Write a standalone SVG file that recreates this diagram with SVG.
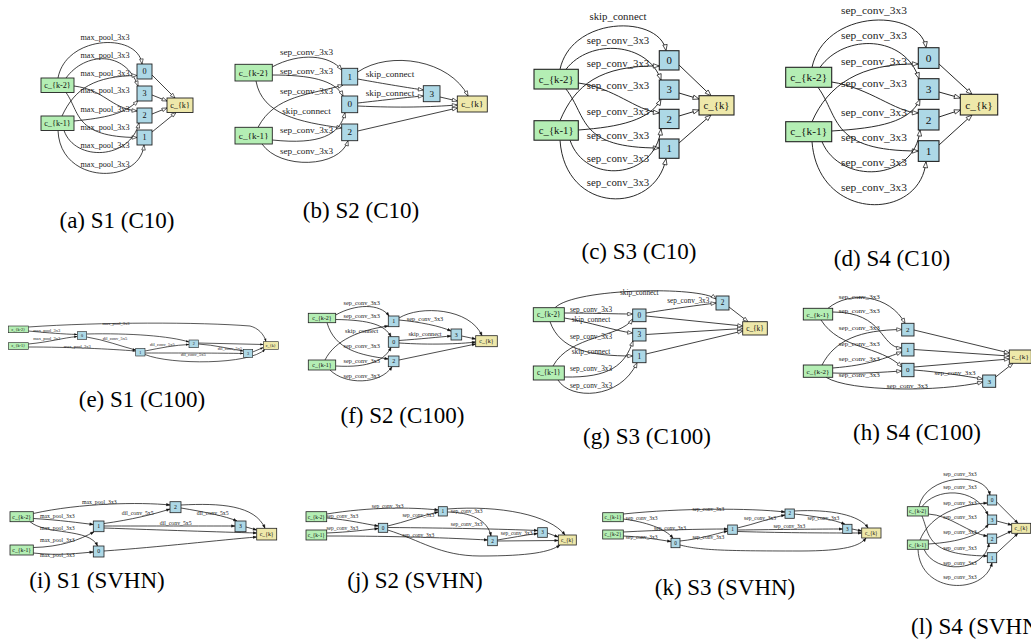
<svg xmlns="http://www.w3.org/2000/svg" width="1031" height="643" viewBox="0 0 1031 643">
<defs>
<style>
.g{fill:#b4eeb4;stroke:#222}
.b{fill:#add8e6;stroke:#222}
.y{fill:#eee8aa;stroke:#222}
.e path{fill:none;stroke:#111}
.e text{fill:#222;stroke:none}
text{font-family:"Liberation Serif","Times New Roman",serif;text-anchor:middle;fill:#111}
.cap{font-size:23px;fill:#000}
.capl{font-size:23px;fill:#000;text-anchor:start}
</style>
<marker id="mL" markerUnits="userSpaceOnUse" markerWidth="8" markerHeight="6" viewBox="-1 -3 8 6" refX="6" refY="0" orient="auto"><path d="M0,-2.2 L6,0 L0,2.2 Z" fill="#fff" stroke="#111" stroke-width="0.7"/></marker>
<marker id="mM" markerUnits="userSpaceOnUse" markerWidth="7" markerHeight="5" viewBox="-1 -2.5 7 5" refX="5" refY="0" orient="auto"><path d="M0,-1.8 L5,0 L0,1.8 Z" fill="#fff" stroke="#111" stroke-width="0.6"/></marker>
<marker id="mS" markerUnits="userSpaceOnUse" markerWidth="5" markerHeight="4" viewBox="-0.5 -2 5 4" refX="3.6" refY="0" orient="auto"><path d="M0,-1.3 L3.6,0 L0,1.3 Z" fill="#111" stroke="#111" stroke-width="0.3"/></marker>
<marker id="mXS" markerUnits="userSpaceOnUse" markerWidth="4" markerHeight="3" viewBox="-0.5 -1.5 4 3" refX="3" refY="0" orient="auto"><path d="M0,-1.1 L3,0 L0,1.1 Z" fill="#111"/></marker>
</defs>
<rect width="1031" height="643" fill="#fff"/>

<!-- (a) -->
<g id="panel-a" font-size="8.2" stroke-width="0.9">
<g id="a-edges" class="e" stroke-width="0.8" marker-end="url(#mM)">
<path d="M58 78 C66 35,138 32,142 64"/>
<path d="M66 78 C85 52,125 50,138 86"/>
<path d="M62 116 C75 88,95 76,137 75.5"/>
<path d="M74 86 C105 90,110 108,137 111"/>
<path d="M74 121 C105 118,125 114,138 100.5"/>
<path d="M66 92.5 C80 112,74 137,137 137.5"/>
<path d="M64 130.5 C75 162,130 160,139 123"/>
<path d="M58 130.5 C60 185,140 185,144 145"/>
<path d="M152 75 L175 98"/>
<path d="M152 95 L167 101"/>
<path d="M152 114 L167 108"/>
<path d="M152 132 L176 112.5"/>
<text x="105" y="40">max_pool_3x3</text>
<text x="105" y="57.7">max_pool_3x3</text>
<text x="105" y="76">max_pool_3x3</text>
<text x="105" y="92.7">max_pool_3x3</text>
<text x="105" y="112">max_pool_3x3</text>
<text x="105" y="130.4">max_pool_3x3</text>
<text x="105" y="148.4">max_pool_3x3</text>
<text x="105" y="166.7">max_pool_3x3</text>
</g>
<g id="a-ck2"><rect class="g" x="41" y="78" width="33" height="14.5"/><text x="57.5" y="88">c_{k-2}</text></g>
<g id="a-ck1"><rect class="g" x="41" y="116" width="33" height="14.5"/><text x="57.5" y="126">c_{k-1}</text></g>
<g id="a-n0"><rect class="b" x="137" y="64" width="15" height="15"/><text x="144.5" y="74.3">0</text></g>
<g id="a-n3"><rect class="b" x="137" y="86" width="15" height="15"/><text x="144.5" y="96.3">3</text></g>
<g id="a-n2"><rect class="b" x="137" y="108" width="15" height="15"/><text x="144.5" y="118.3">2</text></g>
<g id="a-n1"><rect class="b" x="137" y="130" width="15" height="15"/><text x="144.5" y="140.3">1</text></g>
<g id="a-ck"><rect class="y" x="167" y="98" width="26" height="14.5"/><text x="180" y="108">c_{k}</text></g>
<text class="cap" x="117" y="228">(a) S1 (C10)</text>
</g>

<!-- (b) -->
<g id="panel-b" font-size="9.2" stroke-width="0.9">
<g id="b-edges" class="e" stroke-width="0.8" marker-end="url(#mM)">
<path d="M272 67 C300 52,330 55,341.7 70"/>
<path d="M272 75 C310 75,335 80,343 96"/>
<path d="M258 127.3 C275 95,310 95,343 85"/>
<path d="M256 81 C262 115,300 122,341.7 128"/>
<path d="M272.3 140 C320 145,340 135,345 112.7"/>
<path d="M262 144 C280 170,340 168,348 140.7"/>
<path d="M357.7 79 C385 84,410 88,423.3 90"/>
<path d="M357.7 103 C385 100,410 97,423.3 96"/>
<path d="M357.7 72 C390 50,450 60,468 96"/>
<path d="M357.7 106 C400 108,430 107,457.3 105"/>
<path d="M440 97 L457.3 101"/>
<path d="M357.7 131 L457.3 108"/>
<text x="306.5" y="55.3">sep_conv_3x3</text>
<text x="306.5" y="73.7">sep_conv_3x3</text>
<text x="306.5" y="93.7">sep_conv_3x3</text>
<text x="306.5" y="113.7">skip_connect</text>
<text x="306.5" y="133">sep_conv_3x3</text>
<text x="306.5" y="154">sep_conv_3x3</text>
<text x="390" y="77.3">skip_connect</text>
<text x="390" y="96.3">skip_connect</text>
</g>
<g id="b-ck2"><rect class="g" x="235" y="64.3" width="37.3" height="16.7"/><text x="253.7" y="75.7">c_{k-2}</text></g>
<g id="b-ck1"><rect class="g" x="235" y="127.3" width="37.3" height="16.7"/><text x="253.7" y="138.7">c_{k-1}</text></g>
<g id="b-n1"><rect class="b" x="341.7" y="68.3" width="16" height="16.7"/><text x="349.7" y="79.7">1</text></g>
<g id="b-n0"><rect class="b" x="341.7" y="96" width="16" height="16.7"/><text x="349.7" y="107.3">0</text></g>
<g id="b-n2"><rect class="b" x="341.7" y="124" width="16" height="16.7"/><text x="349.7" y="135.3">2</text></g>
<g id="b-n3"><rect class="b" x="423.3" y="85.7" width="16.7" height="16"/><text x="431.7" y="96.7">3</text></g>
<g id="b-ck"><rect class="y" x="457.3" y="96" width="30" height="16"/><text x="472.3" y="107">c_{k}</text></g>
<text class="cap" x="361" y="218">(b) S2 (C10)</text>
</g>

<!-- (c) -->
<g id="panel-c" font-size="10.8" stroke-width="1.1">
<g id="c-edges" class="e" stroke-width="0.9" marker-end="url(#mL)">
<path d="M560 69.3 C572 15,660 15,666 50.7"/>
<path d="M566 69.3 C590 38,648 42,661 80"/>
<path d="M560 120.7 C575 85,600 65,659.3 66"/>
<path d="M578.3 83 C615 88,635 110,659.3 113"/>
<path d="M578.3 130 C620 127,650 120,661 99.3"/>
<path d="M566 89 C588 118,578 148,659.3 148"/>
<path d="M570 140.2 C585 185,655 180,661 129"/>
<path d="M560 140.2 C565 215,655 215,666 158.7"/>
<path d="M679 65 L711 95.7"/>
<path d="M679 93 L699 99"/>
<path d="M679 116 L699 110"/>
<path d="M679 143 L711 115"/>
<text x="618" y="20.3">skip_connect</text>
<text x="618" y="43.6">sep_conv_3x3</text>
<text x="618" y="66.9">sep_conv_3x3</text>
<text x="618" y="88.6">sep_conv_3x3</text>
<text x="618" y="115.3">sep_conv_3x3</text>
<text x="618" y="138.6">sep_conv_3x3</text>
<text x="618" y="162.3">sep_conv_3x3</text>
<text x="618" y="186.3">sep_conv_3x3</text>
</g>
<g id="c-ck2"><rect class="g" x="534" y="69.3" width="44.3" height="19.7"/><text x="556.2" y="82.8">c_{k-2}</text></g>
<g id="c-ck1"><rect class="g" x="534" y="120.7" width="44.3" height="19.5"/><text x="556.2" y="134">c_{k-1}</text></g>
<g id="c-n0"><rect class="b" x="659.3" y="50.7" width="19.7" height="19.3"/><text x="669.2" y="63.9">0</text></g>
<g id="c-n3"><rect class="b" x="659.3" y="80" width="19.7" height="19.3"/><text x="669.2" y="93.3">3</text></g>
<g id="c-n2"><rect class="b" x="659.3" y="109.3" width="19.7" height="19.3"/><text x="669.2" y="122.6">2</text></g>
<g id="c-n1"><rect class="b" x="659.3" y="139" width="19.7" height="19.3"/><text x="669.2" y="152.3">1</text></g>
<g id="c-ck"><rect class="y" x="699" y="95.7" width="35" height="19.3"/><text x="716.5" y="108.9">c_{k}</text></g>
<text class="cap" x="639" y="259">(c) S3 (C10)</text>
</g>

<!-- (d) -->
<g id="panel-d" font-size="11.4" stroke-width="1.1">
<g id="d-edges" class="e" stroke-width="0.9" marker-end="url(#mL)">
<path d="M812 67.3 C825 8,920 8,926 47.7"/>
<path d="M820 67.3 C845 33,905 35,919 78.7"/>
<path d="M812 121.7 C828 85,860 63,918.3 64"/>
<path d="M831.7 82 C870 88,895 112,918.3 113"/>
<path d="M831.7 131 C880 128,910 122,920 99.3"/>
<path d="M818 87.3 C840 118,830 151,918.3 151"/>
<path d="M822 141.7 C840 185,915 182,920 130"/>
<path d="M812 141.7 C818 222,920 222,926 161.7"/>
<path d="M939 64 L972 94.3"/>
<path d="M939 92 L960.3 98"/>
<path d="M939 117 L960.3 110"/>
<path d="M939 145 L972 115"/>
<text x="874" y="13.8">sep_conv_3x3</text>
<text x="874" y="38.8">sep_conv_3x3</text>
<text x="874" y="64.8">sep_conv_3x3</text>
<text x="874" y="87.1">sep_conv_3x3</text>
<text x="874" y="115.5">sep_conv_3x3</text>
<text x="874" y="140.5">sep_conv_3x3</text>
<text x="874" y="166.1">sep_conv_3x3</text>
<text x="874" y="191.1">sep_conv_3x3</text>
</g>
<g id="d-ck2"><rect class="g" x="785.7" y="67.3" width="46" height="20"/><text x="808.7" y="81">c_{k-2}</text></g>
<g id="d-ck1"><rect class="g" x="785.7" y="121.7" width="46" height="20"/><text x="808.7" y="135.4">c_{k-1}</text></g>
<g id="d-n0"><rect class="b" x="918.3" y="47.7" width="20.7" height="20.7"/><text x="928.7" y="61.8">0</text></g>
<g id="d-n3"><rect class="b" x="918.3" y="78.7" width="20.7" height="20.7"/><text x="928.7" y="92.8">3</text></g>
<g id="d-n2"><rect class="b" x="918.3" y="109.3" width="20.7" height="20.7"/><text x="928.7" y="123.5">2</text></g>
<g id="d-n1"><rect class="b" x="918.3" y="140.7" width="20.7" height="20.7"/><text x="928.7" y="154.8">1</text></g>
<g id="d-ck"><rect class="y" x="960.3" y="94.3" width="37.4" height="20.7"/><text x="979" y="108.5">c_{k}</text></g>
<text class="cap" x="892" y="266">(d) S4 (C10)</text>
</g>

<!-- (e) -->
<g id="panel-e" font-size="4.2" stroke-width="0.6">
<g id="e-edges" class="e" stroke-width="0.7" marker-end="url(#mXS)">
<path d="M28.3 327 C100 322,200 322,250 326 C258 328,264 334,266 341.7"/>
<path d="M28.3 331 C50 333,62 334,77.3 334.5"/>
<path d="M28.3 344 C50 342,62 338,77.3 336.5"/>
<path d="M28.3 347 C70 347,110 349,135.7 351"/>
<path d="M86.7 334 C130 333,170 336,189 342"/>
<path d="M86.7 337 C105 340,120 346,135.7 350"/>
<path d="M145 351 C160 348,175 345,189 344.5"/>
<path d="M145 353 C180 353,220 353,243.3 353.5"/>
<path d="M198.3 344 C215 345,230 349,243.3 351"/>
<path d="M198.3 343 L263.3 344.5"/>
<path d="M252.7 352 L263.3 347.5"/>
<path d="M145 354.5 C170 365,250 365,265 349.3"/>
<g font-size="4.5">
<text x="116" y="324.8">max_pool_3x3</text>
<text x="46.7" y="331.5">max_pool_3x3</text>
<text x="46.7" y="339.8">max_pool_3x3</text>
<text x="77.3" y="347.5">max_pool_3x3</text>
<text x="115" y="339.8">dil_conv_5x5</text>
<text x="162.3" y="345.5">dil_conv_5x5</text>
<text x="230" y="349.8">dil_conv_5x5</text>
<text x="193.3" y="355.5">dil_conv_5x5</text>
</g>
</g>
<g id="e-ck2"><rect class="g" x="8.3" y="326" width="20" height="6.7"/><text x="18.3" y="330.7">c_{k-2}</text></g>
<g id="e-ck1"><rect class="g" x="8.3" y="342.7" width="20" height="6.7"/><text x="18.3" y="347.4">c_{k-1}</text></g>
<g id="e-n0"><rect class="b" x="77.3" y="331.7" width="9.4" height="7.6"/><text x="82" y="337">0</text></g>
<g id="e-n1"><rect class="b" x="135.7" y="348.3" width="9.3" height="7.7"/><text x="140.3" y="353.6">1</text></g>
<g id="e-n2"><rect class="b" x="189" y="340" width="9.3" height="7.7"/><text x="193.7" y="345.3">2</text></g>
<g id="e-n3"><rect class="b" x="243.3" y="349.3" width="9.4" height="8"/><text x="248" y="354.8">3</text></g>
<g id="e-ck"><rect class="y" x="263.3" y="341.7" width="15" height="7.6"/><text x="270.8" y="347">c_{k}</text></g>
<text class="cap" x="142" y="407">(e) S1 (C100)</text>
</g>

<!-- (f) -->
<g id="panel-f" font-size="6" stroke-width="0.8">
<g id="f-edges" class="e" stroke-width="0.75" marker-end="url(#mS)">
<path d="M335.7 315 C355 304,380 303,389 316"/>
<path d="M335.7 319.5 C370 320,385 325,391 336.7"/>
<path d="M325 360 C335 340,360 330,388.3 326"/>
<path d="M327 322.7 C335 350,360 355,388.3 359"/>
<path d="M335.7 366 C370 368,385 360,391 347.3"/>
<path d="M330 370 C345 385,380 385,392 366.7"/>
<path d="M399 320 C420 322,440 326,451 331"/>
<path d="M399 340.5 C420 339,440 337,451 336"/>
<path d="M399 318 C420 305,470 308,482 335.7"/>
<path d="M399 343 C430 345,460 344,475.7 342"/>
<path d="M461.7 336 L475.7 339"/>
<path d="M399 360 L475.7 344"/>
<g font-size="6.3">
<text x="361.7" y="305.4">sep_conv_3x3</text>
<text x="361.7" y="318.1">sep_conv_3x3</text>
<text x="361.7" y="333.1">skip_connect</text>
<text x="361.7" y="348.1">sep_conv_3x3</text>
<text x="361.7" y="363.1">sep_conv_3x3</text>
<text x="361.7" y="378.1">sep_conv_3x3</text>
<text x="425" y="321.4">sep_conv_3x3</text>
<text x="425" y="336.4">skip_connect</text>
</g>
</g>
<g id="f-ck2"><rect class="g" x="308.3" y="313.3" width="27.4" height="9.4"/><text x="322" y="320">c_{k-2}</text></g>
<g id="f-ck1"><rect class="g" x="308.3" y="360" width="27.4" height="10"/><text x="322" y="367">c_{k-1}</text></g>
<g id="f-n1"><rect class="b" x="388.3" y="316" width="10.7" height="10.7"/><text x="393.7" y="323.3">1</text></g>
<g id="f-n0"><rect class="b" x="388.3" y="336.7" width="10.7" height="10.6"/><text x="393.7" y="344">0</text></g>
<g id="f-n2"><rect class="b" x="388.3" y="356" width="10.7" height="10.7"/><text x="393.7" y="363.3">2</text></g>
<g id="f-n3"><rect class="b" x="451" y="329" width="10.7" height="11"/><text x="456.3" y="336.5">3</text></g>
<g id="f-ck"><rect class="y" x="475.7" y="335.7" width="21.6" height="11"/><text x="486.5" y="343.2">c_{k}</text></g>
<text class="cap" x="402.5" y="423">(f) S2 (C100)</text>
</g>

<!-- (g) -->
<g id="panel-g" font-size="7.3" stroke-width="0.9">
<g id="g-edges" class="e" stroke-width="0.8" marker-end="url(#mM)">
<path d="M555 307.7 C575 288,700 286,716 299"/>
<path d="M646 313 C670 309,700 305,716 303"/>
<path d="M564.3 313 C590 313,615 314,632.7 314"/>
<path d="M564.3 318 C590 322,615 331,632.7 333"/>
<path d="M553 366 C570 335,620 338,632.7 319"/>
<path d="M550 321.7 C560 350,590 356,632.7 356"/>
<path d="M564.3 377 C610 378,625 365,633 341"/>
<path d="M558 380 C570 400,620 400,637 362.7"/>
<path d="M646 316 L742.7 326"/>
<path d="M646 334.5 L742.7 328.5"/>
<path d="M646 354 L742.7 331"/>
<path d="M729 307 L748 321.7"/>
<text x="639.3" y="295.1">skip_connect</text>
<text x="688.3" y="303.1">sep_conv_3x3</text>
<text x="591" y="311.7">sep_conv_3x3</text>
<text x="591" y="322.4">skip_connect</text>
<text x="591" y="339.1">sep_conv_3x3</text>
<text x="591" y="354.1">skip_connect</text>
<text x="591" y="370.7">sep_conv_3x3</text>
<text x="591" y="388.4">sep_conv_3x3</text>
</g>
<g id="g-ck2"><rect class="g" x="533.3" y="307.7" width="31" height="14"/><text x="548.8" y="317.1">c_{k-2}</text></g>
<g id="g-ck1"><rect class="g" x="533.3" y="366" width="31" height="14"/><text x="548.8" y="375.4">c_{k-1}</text></g>
<g id="g-n0"><rect class="b" x="632.7" y="309" width="13.3" height="12.7"/><text x="639.3" y="317.7">0</text></g>
<g id="g-n3"><rect class="b" x="632.7" y="328.3" width="13.3" height="12.7"/><text x="639.3" y="337.1">3</text></g>
<g id="g-n1"><rect class="b" x="632.7" y="350" width="13.3" height="12.7"/><text x="639.3" y="358.7">1</text></g>
<g id="g-n2"><rect class="b" x="716" y="296" width="13" height="14"/><text x="722.5" y="305.4">2</text></g>
<g id="g-ck"><rect class="y" x="742.7" y="321.7" width="24.6" height="13.3"/><text x="755" y="330.7">c_{k}</text></g>
<text class="cap" x="647" y="444">(g) S3 (C100)</text>
</g>

<!-- (h) -->
<g id="panel-h" font-size="7.1" stroke-width="0.9">
<g id="h-edges" class="e" stroke-width="0.8" marker-end="url(#mM)">
<path d="M828 308.3 C850 290,890 295,905 323.3"/>
<path d="M832.7 312 C885 312,880 348,901.7 348"/>
<path d="M822 365 C835 340,860 330,901.7 329.5"/>
<path d="M821 320 C840 350,880 345,901.7 367"/>
<path d="M832.7 368 C870 365,885 358,901.7 352"/>
<path d="M832.7 373 C860 374,885 372,901.7 371"/>
<path d="M826 377.3 C850 392,940 392,982.7 382"/>
<path d="M914 370 C940 372,965 376,982.7 379"/>
<path d="M914 330 L1009.3 353"/>
<path d="M914 349.5 L1009.3 356"/>
<path d="M914 367 L1009.3 359"/>
<path d="M995.7 377 L1013 363.3"/>
<text x="859.3" y="299">sep_conv_3x3</text>
<text x="859.3" y="313.3">sep_conv_3x3</text>
<text x="859.3" y="330">sep_conv_3x3</text>
<text x="859.3" y="345.6">sep_conv_3x3</text>
<text x="859.3" y="361.3">sep_conv_3x3</text>
<text x="859.3" y="377.3">sep_conv_3x3</text>
<text x="955" y="375">sep_conv_3x3</text>
<text x="907.3" y="388.3">sep_conv_3x3</text>
</g>
<g id="h-ck1"><rect class="g" x="803.3" y="308.3" width="29.4" height="11.7"/><text x="818" y="316.5">c_{k-1}</text></g>
<g id="h-ck2"><rect class="g" x="803.3" y="365" width="29.4" height="12.3"/><text x="818" y="373.5">c_{k-2}</text></g>
<g id="h-n2"><rect class="b" x="901.7" y="323.3" width="12.3" height="12.7"/><text x="907.8" y="332">2</text></g>
<g id="h-n1"><rect class="b" x="901.7" y="343.3" width="12.3" height="12.7"/><text x="907.8" y="352">1</text></g>
<g id="h-n0"><rect class="b" x="901.7" y="363.3" width="12.3" height="13.4"/><text x="907.8" y="372.3">0</text></g>
<g id="h-n3"><rect class="b" x="982.7" y="375" width="13" height="12.3"/><text x="989.2" y="383.5">3</text></g>
<g id="h-ck"><rect class="y" x="1009.3" y="350" width="22" height="13.3"/><text x="1020.3" y="359">c_{k}</text></g>
<text class="cap" x="917" y="440">(h) S4 (C100)</text>
</g>

<!-- (i) -->
<g id="panel-i" font-size="5.8" stroke-width="0.8">
<g id="i-edges" class="e" stroke-width="0.75" marker-end="url(#mS)">
<path d="M33.3 513.5 C80 503,140 502,170 505"/>
<path d="M33.3 518.5 C60 520,80 523,93.3 524.5"/>
<path d="M30 521.7 C45 535,90 528,97.5 546"/>
<path d="M33.3 547.5 C60 547,80 540,94 531.7"/>
<path d="M33.3 553 C60 556,80 553,93.3 552"/>
<path d="M104 523.5 C130 520,155 514,170 509"/>
<path d="M104 526 C150 526,200 526,235 526"/>
<path d="M181 508 C205 512,225 516,237 521"/>
<path d="M181 505 C220 503,255 505,265 528.3"/>
<path d="M104 528 C160 530,220 532,256.7 533"/>
<path d="M104 551 C160 547,220 540,256.7 537"/>
<path d="M246 527 L256.7 530"/>
<text x="99.3" y="503.9">max_pool_3x3</text>
<text x="57.3" y="517.9">max_pool_3x3</text>
<text x="57.3" y="530.2">max_pool_3x3</text>
<text x="57.3" y="541.9">max_pool_3x3</text>
<text x="57.3" y="556.9">max_pool_3x3</text>
<text x="137.7" y="514.6">dil_conv_5x5</text>
<text x="175.7" y="525.2">dil_conv_5x5</text>
<text x="212.7" y="514.6">dil_conv_5x5</text>
</g>
<g id="i-ck2"><rect class="g" x="10" y="511.7" width="23.3" height="10"/><text x="21.7" y="518.6">c_{k-2}</text></g>
<g id="i-ck1"><rect class="g" x="10" y="545" width="23.3" height="10"/><text x="21.7" y="551.9">c_{k-1}</text></g>
<g id="i-n1"><rect class="b" x="93.3" y="521" width="10.7" height="10.7"/><text x="98.7" y="528.2">1</text></g>
<g id="i-n0"><rect class="b" x="93.3" y="546" width="10.7" height="11"/><text x="98.7" y="553.4">0</text></g>
<g id="i-n2"><rect class="b" x="170" y="501.7" width="11" height="11"/><text x="175.5" y="509.1">2</text></g>
<g id="i-n3"><rect class="b" x="235" y="521" width="11" height="10.7"/><text x="240.5" y="528.2">3</text></g>
<g id="i-ck"><rect class="y" x="256.7" y="528.3" width="20" height="11.7"/><text x="266.7" y="536.1">c_{k}</text></g>
<text class="cap" x="97" y="588">(i) S1 (SVHN)</text>
</g>

<!-- (j) -->
<g id="panel-j" font-size="5.3" stroke-width="0.8">
<g id="j-edges" class="e" stroke-width="0.75" marker-end="url(#mS)">
<path d="M326.7 514 C370 507,410 507,438.3 510"/>
<path d="M326.7 518 C350 520,365 524,378.3 526"/>
<path d="M326.7 533 C350 532,365 530,378.3 528.5"/>
<path d="M326.7 536 C400 536,450 538,487.7 540"/>
<path d="M387.7 526 C405 522,420 516,438.3 512"/>
<path d="M447.3 512 C470 512,488 520,491 536"/>
<path d="M387.7 527.5 C450 528,500 529,537.7 530.5"/>
<path d="M497.3 540 C510 538,525 535,537.7 533.5"/>
<path d="M447.3 509 C500 505,550 515,565 535"/>
<path d="M387.7 530 C420 540,440 556,480 556 C530 556,550 552,560 545"/>
<path d="M497.3 541 L558.3 540.5"/>
<path d="M547.3 533 L558.3 537"/>
<g font-size="5.5">
<text x="387.7" y="507.8">sep_conv_3x3</text>
<text x="342.3" y="517.8">sep_conv_3x3</text>
<text x="342.3" y="529.5">sep_conv_3x3</text>
<text x="418.3" y="516.8">sep_conv_3x3</text>
<text x="466.7" y="512.8">sep_conv_3x3</text>
<text x="466.7" y="526.1">sep_conv_3x3</text>
<text x="418.3" y="536.8">sep_conv_3x3</text>
<text x="516.7" y="534.5">sep_conv_3x3</text>
</g>
</g>
<g id="j-ck2"><rect class="g" x="306" y="511.7" width="20.7" height="10"/><text x="316.3" y="518.5">c_{k-2}</text></g>
<g id="j-ck1"><rect class="g" x="306" y="530" width="20.7" height="10"/><text x="316.3" y="536.8">c_{k-1}</text></g>
<g id="j-n0"><rect class="b" x="378.3" y="523.3" width="9.4" height="9"/><text x="383" y="529.6">0</text></g>
<g id="j-n1"><rect class="b" x="438.3" y="506.7" width="9" height="9.3"/><text x="442.8" y="513.1">1</text></g>
<g id="j-n2"><rect class="b" x="487.7" y="536" width="9.6" height="9.7"/><text x="492.5" y="542.6">2</text></g>
<g id="j-n3"><rect class="b" x="537.7" y="527.7" width="9.6" height="9.6"/><text x="542.5" y="534.3">3</text></g>
<g id="j-ck"><rect class="y" x="558.3" y="535" width="18" height="10"/><text x="567.3" y="541.8">c_{k}</text></g>
<text class="cap" x="415" y="588">(j) S2 (SVHN)</text>
</g>

<!-- (k) -->
<g id="panel-k" font-size="5.2" stroke-width="0.8">
<g id="k-edges" class="e" stroke-width="0.75" marker-end="url(#mS)">
<path d="M623.3 514 C680 508,750 508,785 512"/>
<path d="M623.3 519 C645 522,665 528,673 538.3"/>
<path d="M623.3 532 C660 530,700 529,727.7 529"/>
<path d="M623.3 536 C645 537,660 540,671 541.5"/>
<path d="M680 541 C700 539,715 534,727.7 531"/>
<path d="M737.3 528 C755 524,770 518,785 515"/>
<path d="M794.3 514 C815 516,835 520,845 524.3"/>
<path d="M737.3 530 C780 529.5,820 529,842.7 529"/>
<path d="M794.3 511 C830 509,860 515,868 528"/>
<path d="M737.3 531.5 C790 533,830 533,861.7 533"/>
<path d="M852 529 L861.7 531"/>
<path d="M680 545 C700 550,720 551,800 551 C845 551,860 546,866 538"/>
<g font-size="5.5">
<text x="708.3" y="511.1">sep_conv_3x3</text>
<text x="641.7" y="520.1">sep_conv_3x3</text>
<text x="670" y="530.1">sep_conv_3x3</text>
<text x="641.7" y="538.5">sep_conv_3x3</text>
<text x="708.3" y="538.5">sep_conv_3x3</text>
<text x="760" y="520.1">sep_conv_3x3</text>
<text x="789.3" y="527.8">sep_conv_3x3</text>
<text x="823.3" y="520.1">sep_conv_3x3</text>
</g>
</g>
<g id="k-ck1"><rect class="g" x="602.7" y="512.7" width="20.6" height="9"/><text x="613" y="518.9">c_{k-1}</text></g>
<g id="k-ck2"><rect class="g" x="602.7" y="530" width="20.6" height="9"/><text x="613" y="536.2">c_{k-2}</text></g>
<g id="k-n0"><rect class="b" x="671" y="538.3" width="9" height="9.4"/><text x="675.5" y="544.7">0</text></g>
<g id="k-n1"><rect class="b" x="727.7" y="525" width="9.6" height="9.3"/><text x="732.5" y="531.4">1</text></g>
<g id="k-n2"><rect class="b" x="785" y="509" width="9.3" height="9.3"/><text x="789.7" y="515.4">2</text></g>
<g id="k-n3"><rect class="b" x="842.7" y="524.3" width="9.3" height="9"/><text x="847.3" y="530.5">3</text></g>
<g id="k-ck"><rect class="y" x="861.7" y="528" width="19.3" height="10"/><text x="871.3" y="534.7">c_{k}</text></g>
<text class="cap" x="725" y="595">(k) S3 (SVHN)</text>
</g>

<!-- (l) -->
<g id="panel-l" font-size="5.5" stroke-width="0.8">
<g id="l-edges" class="e" stroke-width="0.75" marker-end="url(#mS)">
<path d="M919 506.7 C925 475,985 470,990 495"/>
<path d="M922 506.7 C935 488,975 486,988 515"/>
<path d="M920 540 C928 520,950 505,987.3 503"/>
<path d="M928.3 514 C950 515,970 534,987.3 536"/>
<path d="M928.3 544 C960 542,980 535,988.5 524.3"/>
<path d="M922 516 C930 535,925 555,987.3 556"/>
<path d="M924 549.3 C935 575,985 572,989 543.3"/>
<path d="M918 549.3 C920 595,985 595,992 562.7"/>
<path d="M996.7 502 L1018 523.3"/>
<path d="M996.7 521 L1011.7 525"/>
<path d="M996.7 538 L1011.7 531"/>
<path d="M996.7 553 L1018 533.3"/>
<g font-size="5.8">
<text x="960" y="476.2">sep_conv_3x3</text>
<text x="960" y="489.2">sep_conv_3x3</text>
<text x="960" y="504.6">sep_conv_3x3</text>
<text x="960" y="518.6">sep_conv_3x3</text>
<text x="960" y="534.2">sep_conv_3x3</text>
<text x="960" y="549.6">sep_conv_3x3</text>
<text x="960" y="564.6">sep_conv_3x3</text>
<text x="960" y="579.2">sep_conv_3x3</text>
</g>
</g>
<g id="l-ck2"><rect class="g" x="907.3" y="506.7" width="21" height="9.3"/><text x="917.8" y="513.1">c_{k-2}</text></g>
<g id="l-ck1"><rect class="g" x="907.3" y="540" width="21" height="9.3"/><text x="917.8" y="546.5">c_{k-1}</text></g>
<g id="l-n0"><rect class="b" x="987.3" y="495" width="9.4" height="10"/><text x="992" y="501.8">0</text></g>
<g id="l-n3"><rect class="b" x="987.3" y="515" width="9.4" height="9.3"/><text x="992" y="521.5">3</text></g>
<g id="l-n2"><rect class="b" x="987.3" y="534" width="9.4" height="9.3"/><text x="992" y="540.5">2</text></g>
<g id="l-n1"><rect class="b" x="987.3" y="552.7" width="9.4" height="10"/><text x="992" y="559.5">1</text></g>
<g id="l-ck"><rect class="y" x="1011.7" y="523.3" width="19" height="10"/><text x="1021.2" y="530.1">c_{k}</text></g>
<text class="capl" x="911" y="634">(l) S4 (SVHN)</text>
</g>
</svg>
